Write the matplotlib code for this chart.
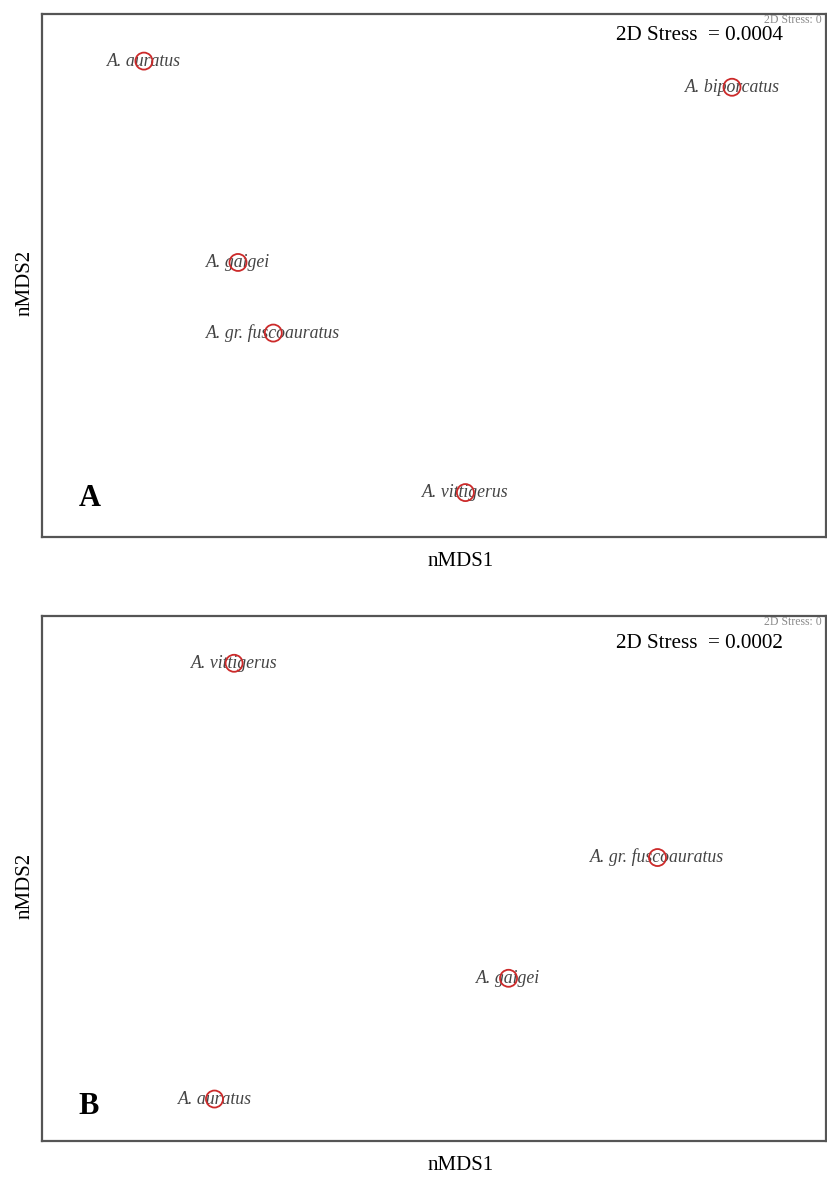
import matplotlib
matplotlib.use("Agg")
import matplotlib.pyplot as plt

plt.rcParams['font.family'] = ['Liberation Serif', 'DejaVu Serif']

# nMDS ordination scores (arbitrary units)
species_a = ["A. auratus", "A. biporcatus", "A. gaigei", "A. gr. fuscoauratus", "A. vittigerus"]
nmds1_a = [-0.74, 0.76, -0.50, -0.41, 0.08]
nmds2_a = [0.82, 0.72, 0.05, -0.22, -0.83]

species_b = ["A. vittigerus", "A. gr. fuscoauratus", "A. gaigei", "A. auratus"]
nmds1_b = [-0.51, 0.57, 0.19, -0.56]
nmds2_b = [0.82, 0.08, -0.38, -0.84]

stress_labels = ["2D Stress  = 0.0004", "2D Stress  = 0.0002"]
panel_letters = ["A", "B"]

fig = plt.figure(figsize=(8.28, 11.79), dpi=100)
ax_a = fig.add_axes([0.0507, 0.5445, 0.947, 0.4436])
ax_b = fig.add_axes([0.0507, 0.0322, 0.947, 0.4453])


def draw_panel(ax, names, xs, ys, stress, letter, stress_y, letter_y):
    ax.scatter(xs, ys, s=150, facecolors='none', edgecolors='#cc2a2a',
               linewidths=1.3, zorder=3)
    for name, x, y in zip(names, xs, ys):
        ax.text(x, y, name, ha='center', va='center', fontsize=12.8,
                style='italic', color='#444444', zorder=2)
    ax.set_xlim(-1, 1)
    ax.set_ylim(-1, 1)
    ax.set_xticks([])
    ax.set_yticks([])
    for sp in ax.spines.values():
        sp.set_color('#555555')
        sp.set_linewidth(1.6)
    # faint leftover label from the ordination software, top right corner
    ax.text(0.995, 0.988, "2D Stress: 0", transform=ax.transAxes, ha='right',
            va='center', fontsize=8.5, color='#8a8a8a')
    ax.text(0.732, stress_y, stress, transform=ax.transAxes, ha='left',
            va='center', fontsize=15.2, color='black')
    ax.text(0.047, letter_y, letter, transform=ax.transAxes, ha='left',
            va='center', fontsize=22, fontweight='bold')


draw_panel(ax_a, species_a, nmds1_a, nmds2_a, stress_labels[0], panel_letters[0], 0.958, 0.073)
draw_panel(ax_b, species_b, nmds1_b, nmds2_b, stress_labels[1], panel_letters[1], 0.947, 0.065)

fig.text(0.556, 1 - 562 / 1179, "nMDS1", ha='center', va='center', fontsize=15)
fig.text(0.556, 1 - 1166 / 1179, "nMDS1", ha='center', va='center', fontsize=15)
fig.text(25 / 828, 1 - 283 / 1179, "nMDS2", ha='center', va='center', fontsize=15, rotation=90)
fig.text(25 / 828, 1 - 886 / 1179, "nMDS2", ha='center', va='center', fontsize=15, rotation=90)

fig.savefig("out.png", dpi=100)
